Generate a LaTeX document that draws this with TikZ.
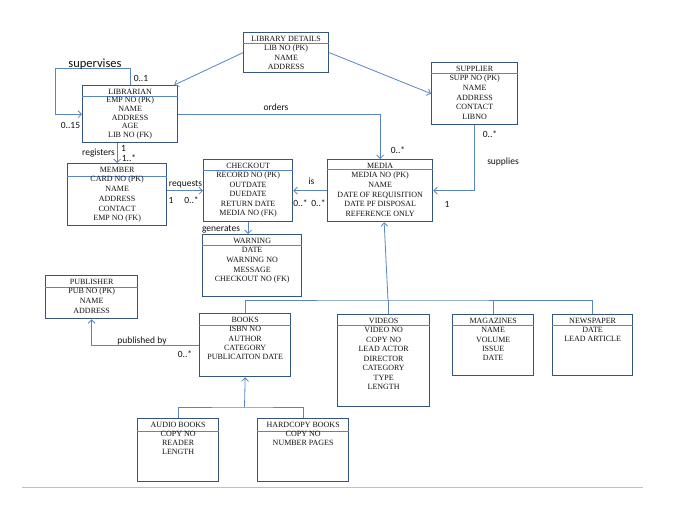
\documentclass[tikz,border=0pt]{standalone}
\usepackage{fontspec}
\setmainfont{Liberation Serif}
\newfontfamily\labfont{Carlito}
\usetikzlibrary{arrows.meta,calc}
\definecolor{boxc}{HTML}{34557F}
\definecolor{linec}{HTML}{5A86C0}
\definecolor{txtc}{HTML}{111111}
\newcommand\erbox[8]{%
  \pgfmathsetmacro\bw{#4-#2}\pgfmathsetmacro\bh{#5-#3}%
  \node[box, minimum width=\bw pt, minimum height=\bh pt, anchor=north west] (#1) at (#2,#3) {};
  \draw[hdr] ([yshift=-#6pt]#1.north west) -- ([yshift=-#6pt]#1.north east);
  \node[txt, font=\fontsize{8}{#7}\selectfont, anchor=north] (#1t) at ([yshift=-3.8pt]#1.north) {#8};
}
\begin{document}
\begin{tikzpicture}[x=1pt,y=-1pt,
  box/.style={draw=boxc, line width=1.3pt, fill=white, inner sep=0pt, rectangle},
  hdr/.style={draw=linec, line width=0.7pt},
  txt/.style={inner sep=0pt, align=center, text=txtc},
  conn/.style={draw=linec, line width=0.8pt},
  arr/.style={conn, -{Straight Barb[length=3.5pt,width=7pt]}},
  lab/.style={inner sep=0pt, text=txtc, font=\labfont\fontsize{9.5}{11}\selectfont}]
\useasboundingbox (0,0) rectangle (685,525);
\fill[white] (0,0) rectangle (685,525);

\erbox{libdet}{243}{32}{328}{72}{11}{9.5}{LIBRARY DETAILS\\LIB NO (PK)\\NAME\\ADDRESS}
\erbox{librarian}{82}{85}{177}{142}{11}{8.6}{LIBRARIAN\\EMP NO (PK)\\NAME\\ADDRESS\\AGE\\LIB NO (FK)}
\erbox{supplier}{431}{62}{517}{124}{11}{9.6}{SUPPLIER\\SUPP NO (PK)\\NAME\\ADDRESS\\CONTACT\\LIBNO}
\erbox{member}{67}{163}{166}{225}{13}{9.7}{MEMBER\\CARD NO (PK)\\NAME\\ADDRESS\\CONTACT\\EMP NO (FK)}
\erbox{checkout}{203}{159}{292}{221}{11.5}{9.5}{CHECKOUT\\RECORD NO (PK)\\OUTDATE\\DUEDATE\\RETURN DATE\\MEDIA NO (FK)}
\erbox{media}{327}{159}{432}{221}{10}{9.6}{MEDIA\\MEDIA NO (PK)\\NAME\\DATE OF REQUISITION\\DATE PF DISPOSAL\\REFERENCE ONLY}
\erbox{warning}{202}{234}{301}{296}{11}{9.6}{WARNING\\DATE\\WARNING NO\\MESSAGE\\CHECKOUT NO (FK)}
\erbox{publisher}{45}{275}{137}{318}{12}{9.6}{PUBLISHER\\PUB NO (PK)\\NAME\\ADDRESS}
\erbox{books}{199}{313}{290}{376}{12}{9.4}{BOOKS\\ISBN NO\\AUTHOR\\CATEGORY\\PUBLICAITON DATE}
\erbox{videos}{337}{314}{429}{406}{11}{9.5}{VIDEOS\\VIDEO NO\\COPY NO\\LEAD ACTOR\\DIRECTOR\\CATEGORY\\TYPE\\LENGTH}
\erbox{magazines}{452}{314}{533}{375}{11}{9.4}{MAGAZINES\\NAME\\VOLUME\\ISSUE\\DATE}
\erbox{newspaper}{552}{314}{632}{375}{11.5}{9.0}{NEWSPAPER\\DATE\\LEAD ARTICLE}
\erbox{audio}{137}{418}{218}{481}{13.5}{9.1}{AUDIO BOOKS\\COPY NO\\READER\\LENGTH}
\erbox{hardcopy}{257}{418}{348}{481}{13.5}{9.1}{HARDCOPY BOOKS\\COPY NO\\NUMBER PAGES}

% connectors
\draw[arr] (libdet.west) -- ($(librarian.north east)+(-4,0)$);
\draw[arr] (libdet.east) -- (supplier.west);
\draw[arr] (librarian.north) -- ++(0,-17) -- ++(-75,0) |- (librarian.west);
\draw[arr] (librarian.east) -| (media.north);
\draw[arr] (supplier.south) |- (media.east);
\draw[arr] (member.north |- librarian.south) -- (member.north);
\draw[arr] (member.east |- checkout.west) -- (checkout.west);
\draw[arr] (media.west) -- (checkout.east);
\draw[arr] (checkout.south) -- (checkout.south |- warning.north);
\draw[arr] (books.west) -| (publisher.south);

\coordinate (hub) at (388,300);
\draw[conn] (books.north) |- (hub) -| (newspaper.north);
\draw[conn] (hub) -- (hub |- videos.north);
\draw[conn] (magazines.north) -- (magazines.north |- hub);
\draw[arr] (hub) -- ($(media.south)+(4,0)$);

\coordinate (bhub) at (244.5,407);
\draw[conn] (audio.north) |- (bhub) -| (hardcopy.north);
\draw[arr] (bhub) -- (books.south);

\draw[draw=black!25, line width=0.8pt] (22,487) -- (643,487);

% labels
\node[lab, font=\labfont\fontsize{12.5}{14}\selectfont] (l1) at (95,64) {supervises};
\node[lab] (l2) at (141,78) {0..1};
\node[lab] (l3) at (70.5,125) {0..15};
\node[lab] (l4) at (276,107) {orders};
\node[lab] (l5) at (398,150) {0..*};
\node[lab] (l6) at (490,134) {0..*};
\node[lab] (l7) at (503,162) {supplies};
\node[lab] (l8) at (447,204) {1};
\node[lab] (l9) at (123.5,148) {1};
\node[lab] (l10) at (129,158) {1..*};
\node[lab] (l11) at (98.5,153) {registers};
\node[lab] (l12) at (185.5,184) {requests};
\node[lab] (l13) at (171,200) {1};
\node[lab] (l14) at (191.5,200) {0..*};
\node[lab] (l15) at (311.5,181) {is};
\node[lab] (l16) at (300.5,203) {0..*};
\node[lab] (l17) at (318.5,203) {0..*};
\node[lab] (l18) at (221,229) {generates};
\node[lab] (l19) at (142,341) {published by};
\node[lab] (l20) at (185,354) {0..*};
\end{tikzpicture}
\end{document}
